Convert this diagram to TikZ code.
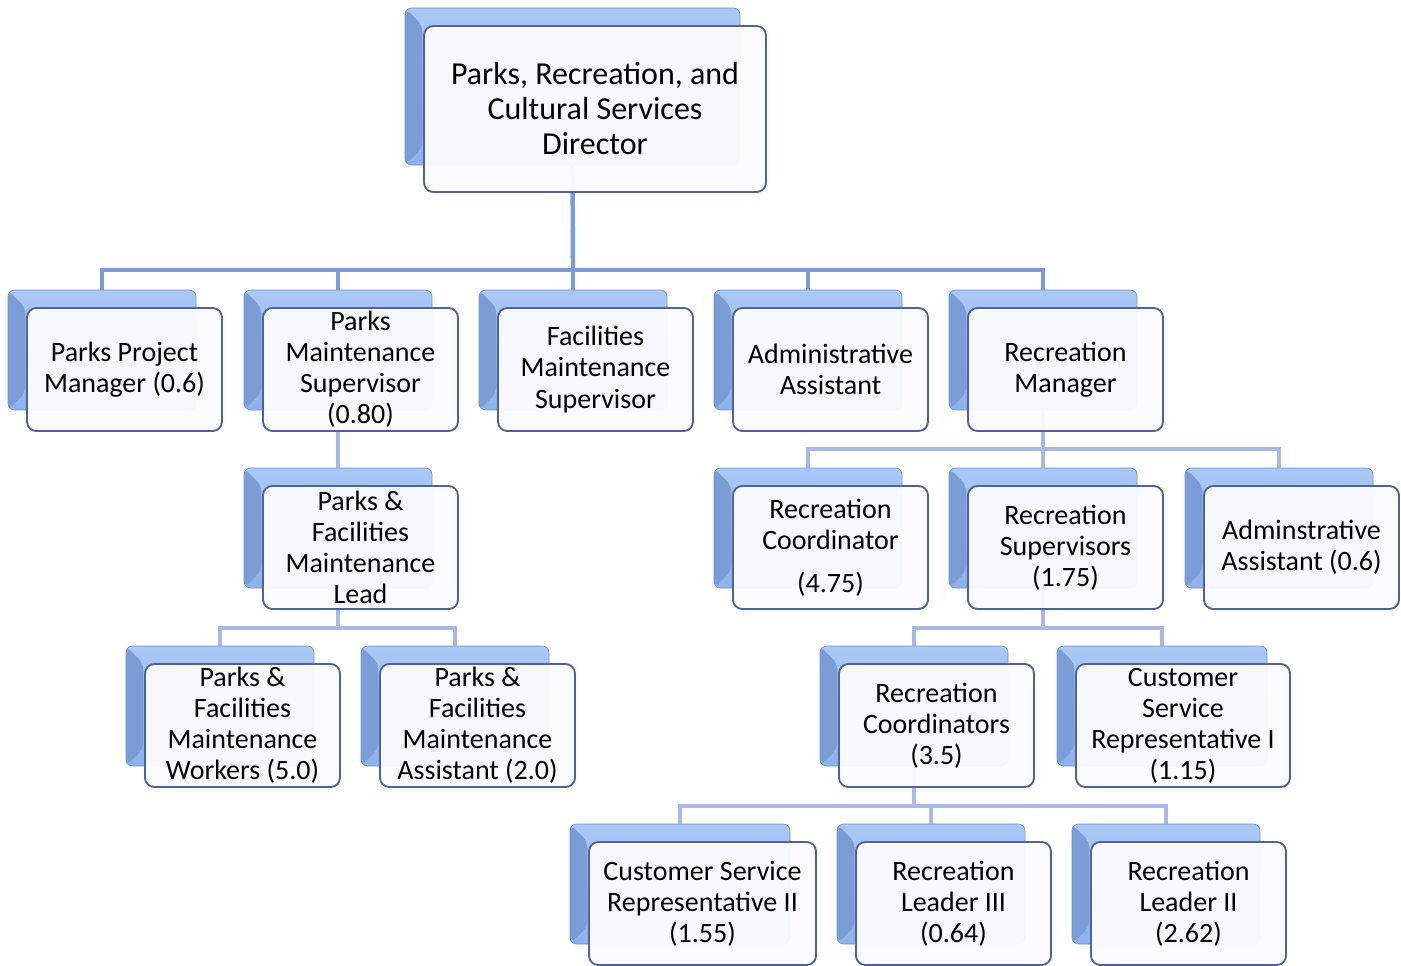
\documentclass[tikz,border=0pt]{standalone}
\usepackage{fontspec}
\setmainfont{Carlito}
\usetikzlibrary{backgrounds}
\definecolor{bbtop}{HTML}{A9C8F6}
\definecolor{bbbot}{HTML}{8EB1EA}
\definecolor{bbdark}{HTML}{7C9CD6}
\definecolor{bbedge}{HTML}{7393CC}
\definecolor{fredge}{HTML}{4E6399}
\definecolor{frfill}{HTML}{FBFBFE}
\definecolor{lnA}{HTML}{7F9BD1}
\definecolor{lnB}{HTML}{A9B9E3}
\tikzset{
  backbox/.style={rounded corners=5pt, top color=bbtop, bottom color=bbbot,
    draw=bbedge, line width=0.5pt, inner sep=0pt,
    path picture={
      \fill[bbdark] (path picture bounding box.north west)
        -- ([shift={(13pt,-13pt)}]path picture bounding box.north west)
        -- ([shift={(13pt,13pt)}]path picture bounding box.south west)
        -- (path picture bounding box.south west) -- cycle;
    }},
  frontbox/.style={rounded corners=7pt, fill=frfill, fill opacity=0.96, text opacity=1,
    draw=fredge, line width=1.4pt, inner sep=0pt, align=center,
    font=\fontsize{21}{23.3}\selectfont},
  dirtext/.style={font=\fontsize{24}{26.25}\selectfont},
  connA/.style={draw=lnA, line width=3.3pt},
  connB/.style={draw=lnB, line width=3.3pt},
}
\newcommand{\orgbox}[9][]{%
  \node[backbox, minimum width={#5*0.75pt}, minimum height={#6*0.75pt}] (#2-b) at ({#3+#5/2},{#4+#6/2}) {};
  \node[frontbox, #1, minimum width={#7*0.75pt}, minimum height={#8*0.75pt}] (#2) at ({#3+19+#7/2},{#4+18+#8/2}) {#9};
}
\begin{document}
\begin{tikzpicture}[x=0.75pt,y=-0.75pt]
\useasboundingbox (0,0) rectangle (1401,965);
% top
\orgbox[dirtext]{dir}{405}{8}{335}{157}{342}{166}{Parks, Recreation, and\\Cultural Services\\Director}
% level 2
\orgbox{ppm}{8}{290}{188}{120}{195}{123}{Parks Project\\Manager (0.6)}
\orgbox{pms}{244}{290}{188}{120}{195}{123}{Parks\\Maintenance\\Supervisor\\(0.80)}
\orgbox{fms}{479}{290}{188}{120}{195}{123}{Facilities\\Maintenance\\Supervisor}
\orgbox{aa}{714}{290}{188}{120}{195}{123}{Administrative\\Assistant}
\orgbox{rm}{949}{290}{188}{120}{195}{123}{Recreation\\Manager}
% level 3
\orgbox{lead}{244}{468}{188}{120}{195}{123}{Parks \&\\Facilities\\Maintenance\\Lead}
\orgbox{rc}{714}{468}{188}{120}{195}{123}{Recreation\\Coordinator\\[9pt](4.75)}
\orgbox{rs}{949}{468}{188}{120}{195}{123}{Recreation\\Supervisors\\(1.75)}
\orgbox{ada}{1185}{468}{188}{120}{195}{123}{Adminstrative\\Assistant (0.6)}
% level 4
\orgbox{pfw}{126}{646}{188}{120}{195}{123}{Parks \&\\Facilities\\Maintenance\\Workers (5.0)}
\orgbox{pfa}{361}{646}{188}{120}{195}{123}{Parks \&\\Facilities\\Maintenance\\Assistant (2.0)}
\orgbox{rcs}{820}{646}{188}{120}{195}{123}{Recreation\\Coordinators\\(3.5)}
\orgbox{csr1}{1057}{646}{210}{120}{214}{123}{Customer\\Service\\Representative I\\(1.15)}
% level 5
\orgbox{csr2}{570}{824}{220}{120}{227}{123}{Customer Service\\Representative II\\(1.55)}
\orgbox{rl3}{837}{824}{188}{120}{195}{123}{Recreation\\Leader III\\(0.64)}
\orgbox{rl2}{1072}{824}{188}{120}{195}{123}{Recreation\\Leader II\\(2.62)}
% junctions
\coordinate (j0) at (573,270);
\coordinate (j1) at (1043,449);
\coordinate (j2) at (338,628);
\coordinate (j3) at (1043,628);
\coordinate (j4) at (914,806);
\begin{scope}[on background layer]
  \draw[connA] (dir-b.south) -- (j0);
  \foreach \c in {ppm,pms,fms,aa,rm} { \draw[connA] (j0) -| (\c-b.north); }
  \draw[connB] (pms-b.south) -- (lead-b.north);
  \draw[connB] (lead-b.south) -- (j2);
  \foreach \c in {pfw,pfa} { \draw[connB] (j2) -| (\c-b.north); }
  \draw[connB] (rm-b.south) -- (j1);
  \foreach \c in {rc,rs,ada} { \draw[connB] (j1) -| (\c-b.north); }
  \draw[connB] (rs-b.south) -- (j3);
  \foreach \c in {rcs,csr1} { \draw[connB] (j3) -| (\c-b.north); }
  \draw[connB] (rcs-b.south) -- (j4);
  \foreach \c in {csr2,rl3,rl2} { \draw[connB] (j4) -| (\c-b.north); }
\end{scope}
\end{tikzpicture}
\end{document}
